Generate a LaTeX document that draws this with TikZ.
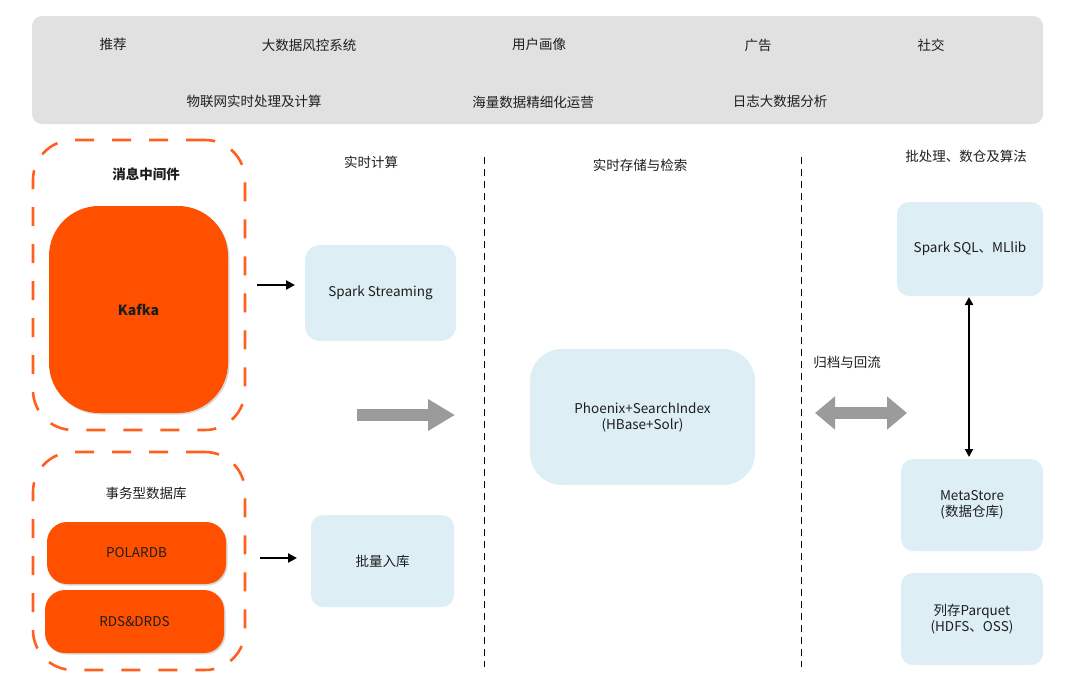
\documentclass[tikz,border=0pt]{standalone}
\usepackage{fontspec}
\setmainfont{Noto Sans CJK SC}
\usetikzlibrary{arrows.meta,shadows}
\definecolor{orangeF}{HTML}{FF5000}
\definecolor{dashO}{HTML}{FF5F1F}
\definecolor{lightB}{HTML}{DDEFF5}
\definecolor{panelG}{HTML}{E0E1E0}
\definecolor{grayA}{HTML}{9B9B9B}
\definecolor{txt}{HTML}{1E1E1E}
\begin{document}
\begin{tikzpicture}[x=1pt,y=-1pt,
  font=\fontsize{13.5}{16}\selectfont, text=txt,
  dashbox/.style={draw=dashO, line width=2.6pt, dash pattern=on 19pt off 18pt, rounded corners=40pt, inner sep=0pt},
  orangebox/.style={fill=orangeF, rounded corners=#1, inner sep=0pt, drop shadow={opacity=0.3, shadow xshift=1.5pt, shadow yshift=-1.5pt}},
  bluebox/.style={fill=lightB, rounded corners=#1, inner sep=0pt, align=center},
  lbl/.style={inner sep=1pt, yshift=-1.5pt},
  blackarrow/.style={line width=2.2pt, -{Triangle[length=9pt,width=9pt]}},
  blackdouble/.style={line width=2pt, {Triangle[length=8pt,width=8pt]}-{Triangle[length=8pt,width=8pt]}},
  grayarrow/.style={line width=12pt, draw=grayA, -{Triangle[length=27pt,width=30pt]}},
  graydouble/.style={line width=12pt, draw=grayA, {Triangle[length=20pt,width=32pt]}-{Triangle[length=20pt,width=32pt]}},
  sepline/.style={line width=0.8pt, dash pattern=on 7pt off 5pt}
]
\useasboundingbox (0,0) rectangle (1073,699);

% top panel
\node[fill=panelG, rounded corners=10pt, minimum width=1011pt, minimum height=108pt, inner sep=0pt] (panel) at (537.5,70) {};
\node[lbl] (t1) at (113,43) {推荐};
\node[lbl] (t2) at (309,44) {大数据风控系统};
\node[lbl] (t3) at (539,43) {用户画像};
\node[lbl] (t4) at (758,44) {广告};
\node[lbl] (t5) at (931,44) {社交};
\node[lbl] (t6) at (254,100) {物联网实时处理及计算};
\node[lbl] (t7) at (533,101) {海量数据精细化运营};
\node[lbl] (t8) at (780,100) {日志大数据分析};

% message middleware
\node[dashbox, minimum width=212pt, minimum height=290pt] (mq) at (139,285) {};
\node[lbl, font=\fontsize{13.5}{16}\selectfont\bfseries] (mqt) at (146,173) {消息中间件};
\node[orangebox=50pt, minimum width=179pt, minimum height=207pt, font=\fontsize{14}{16}\selectfont\bfseries] (kafka) at (138.5,309.5) {Kafka};

% transactional db
\node[dashbox, minimum width=212pt, minimum height=218pt] (db) at (139,561) {};
\node[lbl] (dbt) at (146,492) {事务型数据库};
\node[orangebox=20pt, minimum width=179pt, minimum height=62pt] (polar) at (136.5,553) {POLARDB};
\node[orangebox=20pt, minimum width=179pt, minimum height=63pt] (rds) at (134.5,621.5) {RDS\&DRDS};

% realtime compute
\node[lbl] (rtc) at (371,161) {实时计算};
\node[bluebox=15pt, minimum width=151pt, minimum height=96pt] (ss) at (380.5,293) {Spark Streaming};
\node[bluebox=12pt, minimum width=143pt, minimum height=92pt] (batch) at (382.5,561) {批量入库};

% separators
\coordinate (s1a) at (484,157); \coordinate (s1b) at (484,667);
\coordinate (s2a) at (801,157); \coordinate (s2b) at (801,667);
\draw[sepline] (s1a) -- (s1b);
\draw[sepline] (s2a) -- (s2b);

% storage
\node[lbl] (rts) at (640,164) {实时存储与检索};
\node[bluebox=32pt, minimum width=225pt, minimum height=136pt] (phx) at (642.5,417) {Phoenix+SearchIndex\\(HBase+Solr)};

% batch side
\node[lbl] (arch) at (847,361) {归档与回流};
\node[lbl] (bpt) at (966,155) {批处理、数仓及算法};
\node[bluebox=12pt, minimum width=146pt, minimum height=94pt] (sql) at (970,249) {Spark SQL、MLlib};
\node[bluebox=12pt, minimum width=142pt, minimum height=92pt] (meta) at (972,505) {MetaStore\\(数据仓库)};
\node[bluebox=12pt, minimum width=142pt, minimum height=92pt] (pq) at (972,619) {列存Parquet\\(HDFS、OSS)};

% arrows
\coordinate (a1s) at (257,285); \coordinate (a1e) at (295,285);
\draw[blackarrow] (a1s) -- (a1e);
\coordinate (a2s) at (260,558); \coordinate (a2e) at (297,558);
\draw[blackarrow] (a2s) -- (a2e);
\coordinate (g1s) at (357,415); \coordinate (g1e) at (455,415);
\draw[grayarrow] (g1s) -- (g1e);
\coordinate (g2s) at (815,413); \coordinate (g2e) at (907,413);
\draw[graydouble] (g2s) -- (g2e);
\coordinate (v1) at (969,297); \coordinate (v2) at (969,457);
\draw[blackdouble] (v1) -- (v2);
\end{tikzpicture}
\end{document}
